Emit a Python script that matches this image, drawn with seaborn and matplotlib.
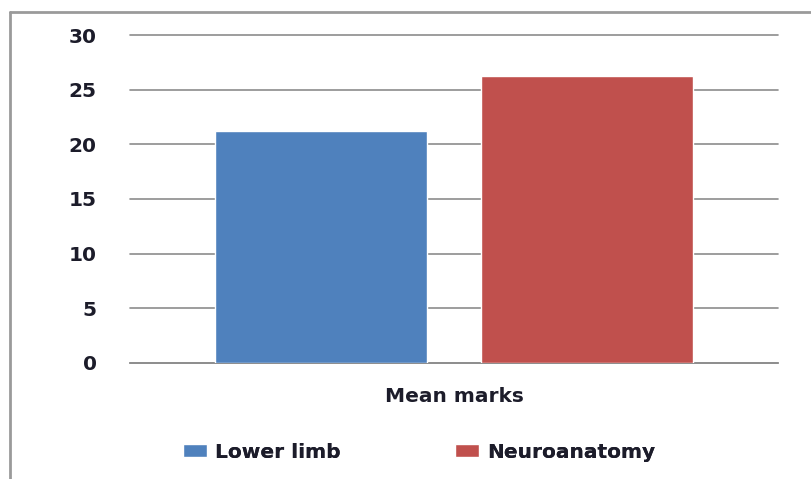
import matplotlib
matplotlib.use("Agg")
import matplotlib.pyplot as plt
import seaborn as sns
import pandas as pd
from matplotlib.lines import Line2D

# Chart data
categories = ["Mean marks"]
series = ["Lower limb", "Neuroanatomy"]
values = [21.25, 26.25]
colors = ["#4F81BD", "#C0504D"]
y_ticks = [0, 5, 10, 15, 20, 25, 30]

df = pd.DataFrame({
    "category": categories * len(series),
    "series": series,
    "value": values,
})

sns.set_theme(style="white")
plt.rcParams["font.family"] = ["DejaVu Sans"]

W, H = 811, 479
FS = 14.5
TXT = "#1c1c2a"
fig = plt.figure(figsize=(W / 100, H / 100), dpi=100)
ax = fig.add_axes([130 / W, (H - 363) / H, (778 - 130) / W, (363 - 35) / H])

sns.barplot(data=df, x="category", y="value", hue="series",
            palette=colors, width=0.82, gap=0.2, saturation=1,
            legend=False, ax=ax, zorder=3)

ax.set_ylim(0, 30)
ax.set_xlim(-0.5, 0.5)
ax.set_yticks(y_ticks)
ax.set_yticklabels([str(t) for t in y_ticks], fontsize=FS, fontweight="bold", color=TXT)
ax.tick_params(axis="y", length=0, pad=24)
ax.tick_params(axis="x", length=0, pad=17)
for lbl in ax.get_xticklabels():
    lbl.set_fontsize(FS)
    lbl.set_fontweight("bold")
    lbl.set_color(TXT)
ax.set_xlabel("")
ax.set_ylabel("")

ax.yaxis.grid(True, color="#8c8c8c", linewidth=1.2, zorder=0)
for gl in ax.get_ygridlines():
    gl.set_clip_on(False)
ax.xaxis.grid(False)
for s in ["left", "right", "top"]:
    ax.spines[s].set_visible(False)
ax.spines["bottom"].set_color("#8c8c8c")
ax.spines["bottom"].set_linewidth(1.2)

# Outer chart frame (left and top edges)
fig.add_artist(Line2D([10 / W, 10 / W], [0, 1 - 12 / H], transform=fig.transFigure,
                      color="#9a9a9a", linewidth=2))
fig.add_artist(Line2D([10 / W, 1], [1 - 12 / H, 1 - 12 / H], transform=fig.transFigure,
                      color="#9a9a9a", linewidth=2))

# Legend: one entry per series, spread under the category label
legend_x = [262, 555]
for name, col, lx in zip(series, colors, legend_x):
    leg = fig.legend([plt.Rectangle((0, 0), 1, 1, facecolor=col)], [name],
                     loc="center", bbox_to_anchor=(lx / W, 1 - 452 / H),
                     frameon=False, handlelength=1.2, handleheight=0.62,
                     handletextpad=0.4,
                     prop={"size": FS, "weight": "bold"}, labelcolor=TXT)
    fig.add_artist(leg)

fig.savefig("out.png", dpi=100)
